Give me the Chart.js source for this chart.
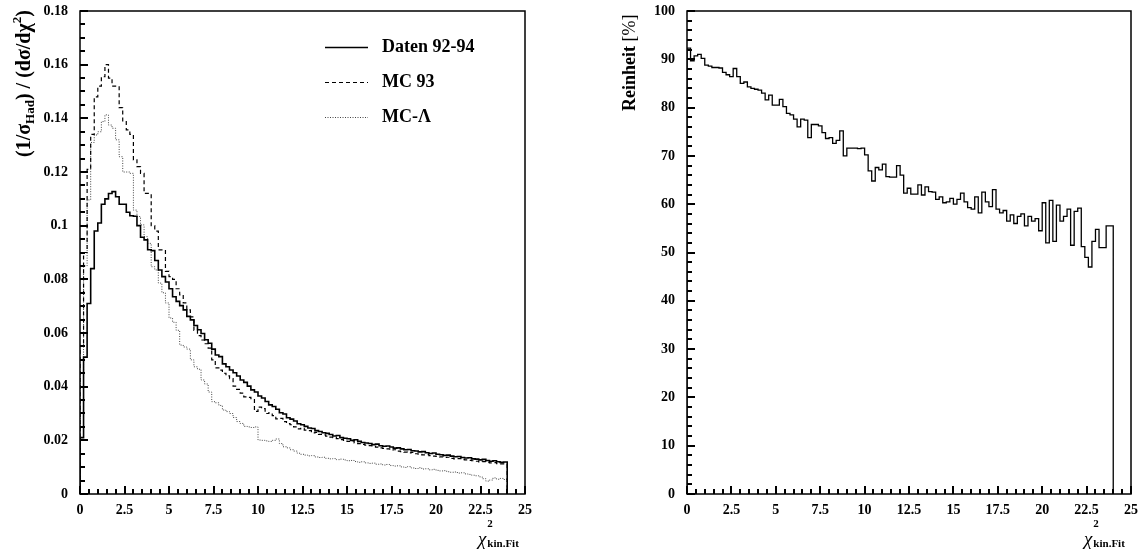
<!DOCTYPE html>
<html>
<head>
<meta charset="utf-8">
<script src="https://cdn.jsdelivr.net/npm/chart.js@4"></script>
<style>
    body { margin: 0; background: #fff; }
    canvas { position: absolute; top: 0; }
    #left { left: 0; }
    #right { left: 570px; }
</style>
</head>
<body>
<canvas id="left" width="560" height="550" style="width:560px;height:550px"></canvas>
<canvas id="right" width="571" height="550" style="width:571px;height:550px"></canvas>
<script>
// 120 bins of width 0.2 from 0 to 24
const binWidth = 0.2;

const daten = [
    0.021, 0.051, 0.071, 0.084, 0.098, 0.101, 0.108, 0.110, 0.112, 0.1127,
    0.1108, 0.108, 0.108, 0.105, 0.1037, 0.1035, 0.100, 0.0957, 0.0947, 0.091,
    0.0907, 0.087, 0.0835, 0.081, 0.079, 0.0765, 0.0735, 0.0718, 0.0702, 0.0686,
    0.0662, 0.0649, 0.0628, 0.0612, 0.0598, 0.0575, 0.0562, 0.0540, 0.0518, 0.0512,
    0.0485, 0.0474, 0.0462, 0.0452, 0.0440, 0.0425, 0.0416, 0.0402, 0.0388, 0.0380,
    0.0365, 0.0358, 0.0345, 0.0332, 0.0326, 0.0316, 0.0303, 0.0298, 0.0284, 0.0279,
    0.0272, 0.0262, 0.0258, 0.0252, 0.0246, 0.0244, 0.0236, 0.0233, 0.0228, 0.0226,
    0.0222, 0.0216, 0.0218, 0.0210, 0.0208, 0.0206, 0.0200, 0.0202, 0.0196, 0.0192,
    0.0190, 0.0188, 0.0184, 0.0186, 0.0180, 0.0178, 0.0179, 0.0175, 0.0171, 0.0172,
    0.0168, 0.0165, 0.0166, 0.0161, 0.0160, 0.0157, 0.0158, 0.0154, 0.0151, 0.0153,
    0.0148, 0.0146, 0.0144, 0.0145, 0.0141, 0.0139, 0.0140, 0.0136, 0.0134, 0.0135,
    0.0131, 0.0130, 0.0127, 0.0129, 0.0125, 0.0122, 0.0124, 0.0120, 0.0118, 0.0119
];

const mc93 = [
    0.055, 0.090, 0.121, 0.134, 0.148, 0.152, 0.1555, 0.160, 0.155, 0.152,
    0.152, 0.144, 0.139, 0.1357, 0.134, 0.1245, 0.122, 0.1195, 0.112, 0.112,
    0.100, 0.098, 0.091, 0.091, 0.083, 0.081, 0.080, 0.0765, 0.0742, 0.0712,
    0.0686, 0.0660, 0.0610, 0.0590, 0.0574, 0.0560, 0.0544, 0.0500, 0.0470, 0.0462,
    0.0450, 0.0440, 0.0430, 0.0402, 0.0390, 0.0376, 0.0362, 0.0360, 0.0355, 0.0308,
    0.0324, 0.0318, 0.0300, 0.0302, 0.0292, 0.0280, 0.0282, 0.0270, 0.0262, 0.0258,
    0.0250, 0.0243, 0.0245, 0.0238, 0.0236, 0.0228, 0.0230, 0.0222, 0.0220, 0.0216,
    0.0212, 0.0210, 0.0206, 0.0203, 0.0200, 0.0196, 0.0198, 0.0190, 0.0188, 0.0185,
    0.0182, 0.0180, 0.0177, 0.0175, 0.0172, 0.0170, 0.0168, 0.0164, 0.0165, 0.0160,
    0.0158, 0.0156, 0.0153, 0.0155, 0.0150, 0.0148, 0.0146, 0.0147, 0.0143, 0.0141,
    0.0140, 0.0138, 0.0136, 0.0137, 0.0133, 0.0131, 0.0132, 0.0128, 0.0127, 0.0125,
    0.0124, 0.0122, 0.0120, 0.0121, 0.0118, 0.0116, 0.0117, 0.0113, 0.0112, 0.0110
];

const mcLambda = [
    0.045, 0.085, 0.1096, 0.131, 0.1338, 0.135, 0.1388, 0.1413, 0.1375, 0.1363,
    0.132, 0.1257, 0.120, 0.120, 0.1195, 0.1058, 0.1034, 0.1003, 0.0959, 0.0934,
    0.0847, 0.0835, 0.0786, 0.075, 0.0712, 0.0656, 0.0640, 0.0610, 0.0555, 0.0548,
    0.0540, 0.0500, 0.0474, 0.0465, 0.0425, 0.0410, 0.0380, 0.0344, 0.0340, 0.0330,
    0.0313, 0.0307, 0.0300, 0.0285, 0.0270, 0.0263, 0.0252, 0.0250, 0.0248, 0.0250,
    0.0201, 0.0200, 0.0198, 0.0196, 0.0200, 0.0205, 0.0188, 0.0176, 0.0172, 0.0165,
    0.0160, 0.0152, 0.0148, 0.0145, 0.0142, 0.0143, 0.0138, 0.0136, 0.0137, 0.0133,
    0.0131, 0.0132, 0.0128, 0.0130, 0.0127, 0.0124, 0.0125, 0.0121, 0.0118, 0.0120,
    0.0116, 0.0114, 0.0115, 0.0111, 0.0112, 0.0108, 0.0110, 0.0106, 0.0104, 0.0105,
    0.0101, 0.0099, 0.0102, 0.0097, 0.0095, 0.0098, 0.0093, 0.0094, 0.0090, 0.0092,
    0.0088, 0.0086, 0.0087, 0.0083, 0.0081, 0.0082, 0.0078, 0.0079, 0.0075, 0.0073,
    0.0070, 0.0068, 0.0064, 0.0057, 0.0048, 0.0052, 0.0060, 0.0055, 0.0058, 0.0054
];

const reinheit = [
    92.3, 89.7, 90.7, 91.0, 90.2, 88.8, 88.6, 88.3, 88.3, 88.2,
    87.3, 86.8, 86.4, 88.1, 86.4, 85.0, 85.3, 84.3, 84.0, 83.8,
    83.6, 83.0, 81.6, 82.6, 80.5, 80.5, 81.7, 80.2, 78.8, 78.5,
    77.6, 76.0, 77.6, 77.4, 73.8, 76.5, 76.5, 76.2, 74.8, 73.6,
    73.8, 72.6, 73.2, 75.2, 70.0, 71.6, 71.6, 71.6, 71.5, 71.6,
    70.2, 66.9, 64.8, 67.6, 67.1, 68.3, 65.7, 65.6, 65.6, 68.0,
    66.0, 62.3, 63.3, 62.1, 62.1, 64.0, 61.9, 63.6, 62.6, 62.5,
    61.0, 61.5, 60.3, 60.5, 61.2, 60.0, 61.0, 62.3, 60.5, 59.3,
    59.0, 61.5, 58.2, 62.5, 60.5, 59.5, 63.0, 59.0, 58.2, 58.7,
    56.5, 57.8, 56.0, 57.5, 58.0, 55.5, 57.5, 56.5, 57.0, 54.5,
    60.3, 52.0, 60.8, 52.3, 59.8, 56.5, 57.5, 59.0, 51.5, 58.5,
    59.2, 51.2, 49.0, 47.0, 52.3, 54.8, 51.0, 51.0, 55.5, 55.5
];

const xTicks = [0, 2.5, 5, 7.5, 10, 12.5, 15, 17.5, 20, 22.5, 25];
const xTickLabels = ["0", "2.5", "5", "7.5", "10", "12.5", "15", "17.5", "20", "22.5", "25"];
const leftYTicks = [0, 0.02, 0.04, 0.06, 0.08, 0.1, 0.12, 0.14, 0.16, 0.18];
const leftYTickLabels = ["0", "0.02", "0.04", "0.06", "0.08", "0.1", "0.12", "0.14", "0.16", "0.18"];
const rightYTicks = [0, 10, 20, 30, 40, 50, 60, 70, 80, 90, 100];
const rightYTickLabels = ["0", "10", "20", "30", "40", "50", "60", "70", "80", "90", "100"];

const SERIF = "'Liberation Serif', 'DejaVu Serif', serif";
const tickFont = { family: SERIF, size: 14, weight: "bold" };

// histogram outline: left edge of each bin, closed to 0 on both ends
function toSteps(values) {
    const pts = [{ x: 0, y: 0 }];
    values.forEach((v, i) => pts.push({ x: i * binWidth, y: v }));
    pts.push({ x: values.length * binWidth, y: 0 });
    return pts;
}

function drawRich(ctx, parts, x, y, rotate) {
    ctx.save();
    ctx.translate(x, y);
    if (rotate) ctx.rotate(-Math.PI / 2);
    ctx.fillStyle = "#000";
    ctx.textBaseline = "alphabetic";
    ctx.textAlign = "left";
    let cx = 0;
    parts.forEach((p) => {
        ctx.font = p.font;
        ctx.fillText(p.t, cx + (p.dx || 0), p.dy || 0);
        if (!p.noAdvance) cx += ctx.measureText(p.t).width + (p.dx || 0);
    });
    ctx.restore();
}

// frame, inward tick marks, axis titles, legend (config kept in a closure)
function makeDecor(cfg) {
    return {
        id: "decor",
        afterDraw(chart) {
            const ctx = chart.ctx;
            const a = chart.chartArea;
            const xs = chart.scales.x;
            const ys = chart.scales.y;
            const left = Math.round(a.left);
            const bottom = Math.round(a.bottom);
            ctx.save();
            ctx.strokeStyle = "#000";
            ctx.fillStyle = "#000";
            ctx.setLineDash([]);
            ctx.lineWidth = 1.5;
            ctx.strokeRect(a.left, a.top, a.right - a.left, a.bottom - a.top);

            // ticks as small filled bars pointing into the plot
            for (let i = 0; i <= 50; i++) {
                const v = i * 0.5;
                const major = i % 5 === 0;
                const len = major ? 8 : 5;
                const px = Math.round(xs.getPixelForValue(v));
                ctx.fillRect(px - 1, bottom - len, 2, len);
            }
            const ny = cfg.yMinorCount;
            for (let i = 0; i <= ny; i++) {
                const v = ys.min + (ys.max - ys.min) * i / ny;
                const major = i % cfg.yPerMajor === 0;
                const len = major ? 8 : 5;
                const py = Math.round(ys.getPixelForValue(v));
                ctx.fillRect(left, py - 1, len, 2);
            }

            // x-axis title: chi^2 kin.Fit
            drawRich(ctx, [
                { t: "χ", font: "italic 19px " + SERIF },
                { t: "2", font: "bold 11px " + SERIF, dy: -18, noAdvance: true, dx: 1 },
                { t: "kin.Fit", font: "bold 11px " + SERIF, dy: 2, dx: 1 }
            ], a.right - 47, 545, false);

            // y-axis title
            drawRich(ctx, cfg.yTitle, cfg.yTitleX, cfg.yTitleY, true);

            // legend
            if (cfg.legend) {
                const lg = cfg.legend;
                chart.data.datasets.forEach((ds, i) => {
                    const y = lg.y + i * lg.gap;
                    ctx.strokeStyle = ds.borderColor;
                    ctx.lineWidth = ds.borderWidth;
                    ctx.setLineDash(ds.borderDash || []);
                    ctx.beginPath();
                    ctx.moveTo(lg.x, y + 0.5);
                    ctx.lineTo(lg.x + 43, y + 0.5);
                    ctx.stroke();
                    ctx.setLineDash([]);
                    ctx.fillStyle = "#000";
                    ctx.font = "bold 18px " + SERIF;
                    ctx.textBaseline = "middle";
                    ctx.fillText(ds.label, lg.x + 57, y);
                });
            }
            ctx.restore();
        }
    };
}

function axisX() {
    return {
        type: "linear",
        min: 0,
        max: 25,
        afterBuildTicks: (s) => { s.ticks = xTicks.map((v) => ({ value: v })); },
        afterFit: (s) => {
            s.height = 56;
            s.paddingLeft = 0;
            s.paddingRight = 0;
        },
        grid: { display: false, drawTicks: false },
        border: { display: false },
        ticks: {
            autoSkip: false,
            maxRotation: 0,
            padding: 8,
            color: "#000",
            font: tickFont,
            callback: (v, i) => xTickLabels[i]
        }
    };
}

function axisY(max, values, labels, width) {
    return {
        type: "linear",
        min: 0,
        max: max,
        afterBuildTicks: (s) => { s.ticks = values.map((v) => ({ value: v })); },
        afterFit: (s) => {
            s.width = width;
            s.paddingTop = 0;
            s.paddingBottom = 0;
        },
        grid: { display: false, drawTicks: false },
        border: { display: false },
        ticks: {
            autoSkip: false,
            padding: 12,
            color: "#000",
            font: tickFont,
            callback: (v, i) => labels[i]
        }
    };
}

const histLine = { stepped: true, pointRadius: 0, fill: false, borderJoinStyle: "miter", borderCapStyle: "butt" };

new Chart(document.getElementById("left"), {
    type: "line",
    data: {
        datasets: [
            { ...histLine, label: "Daten 92-94", data: toSteps(daten), borderColor: "#000", borderWidth: 1.6 },
            { ...histLine, label: "MC 93", data: toSteps(mc93), borderColor: "#000", borderWidth: 1.2, borderDash: [4, 3] },
            { ...histLine, label: "MC-Λ", data: toSteps(mcLambda), borderColor: "#444", borderWidth: 1, borderDash: [1, 1.5] }
        ]
    },
    options: {
        responsive: false,
        animation: false,
        devicePixelRatio: 1,
        layout: { padding: { top: 11, right: 35, left: 0, bottom: 0 } },
        plugins: { legend: { display: false }, tooltip: { enabled: false } },
        scales: {
            x: axisX(),
            y: axisY(0.18, leftYTicks, leftYTickLabels, 80)
        }
    },
    plugins: [makeDecor({
        yMinorCount: 36,
        yPerMajor: 4,
        yTitleX: 30,
        yTitleY: 157,
        yTitle: [
            { t: "(1/σ", font: "bold 20px " + SERIF },
            { t: "Had", font: "bold 13px " + SERIF, dy: 4 },
            { t: ") / (dσ/dχ", font: "bold 20px " + SERIF },
            { t: "2", font: "bold 13px " + SERIF, dy: -9 },
            { t: ")", font: "bold 20px " + SERIF }
        ],
        legend: { x: 325, y: 47, gap: 35 }
    })]
});

new Chart(document.getElementById("right"), {
    type: "line",
    data: {
        datasets: [
            { ...histLine, label: "Reinheit", data: toSteps(reinheit), borderColor: "#000", borderWidth: 1.3 }
        ]
    },
    options: {
        responsive: false,
        animation: false,
        devicePixelRatio: 1,
        layout: { padding: { top: 11, right: 10, left: 0, bottom: 0 } },
        plugins: { legend: { display: false }, tooltip: { enabled: false } },
        scales: {
            x: axisX(),
            y: axisY(100, rightYTicks, rightYTickLabels, 117)
        }
    },
    plugins: [makeDecor({
        yMinorCount: 50,
        yPerMajor: 5,
        yTitleX: 65,
        yTitleY: 111,
        yTitle: [
            { t: "Reinheit", font: "bold 18px " + SERIF },
            { t: " [%]", font: "18px " + SERIF }
        ]
    })]
});
</script>
</body>
</html>
